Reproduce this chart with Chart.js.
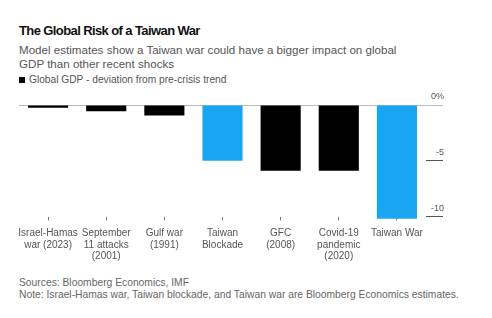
<!DOCTYPE html>
<html>
<head>
<meta charset="utf-8">
<script src="https://cdn.jsdelivr.net/npm/chart.js@4"></script>
<style>
  body { margin: 0; background: #fff; font-family: "Liberation Sans", Arial, sans-serif; }
  #wrap { position: relative; width: 492px; height: 318px; overflow: hidden; }
  .t { position: absolute; left: 19px; white-space: nowrap; }
  #title { top: 23px; font-size: 13px; line-height: 16px; font-weight: bold; color: #111; letter-spacing: -0.6px; }
  #sub { top: 43px; font-size: 11.6px; line-height: 14px; color: #555; }
  #legend { top: 74px; font-size: 10.2px; line-height: 12px; color: #555; }
  #legend span { display: inline-block; width: 6px; height: 6px; background: #000; margin-right: 4px; vertical-align: 0px; }
  #foot { top: 277px; font-size: 10.3px; line-height: 12px; color: #666; }
  #box { position: absolute; left: 0; top: 85px; width: 492px; height: 184px; }
</style>
</head>
<body>
<div id="wrap">
  <div class="t" id="title">The Global Risk of a Taiwan War</div>
  <div class="t" id="sub">Model estimates show a Taiwan war could have a bigger impact on global<br>GDP than other recent shocks</div>
  <div class="t" id="legend"><span></span>Global GDP - deviation from pre-crisis trend</div>
  <div class="t" id="foot">Sources: Bloomberg Economics, IMF<br>Note: Israel-Hamas war, Taiwan blockade, and Taiwan war are Bloomberg Economics estimates.</div>
  <div id="box"><canvas id="chart"></canvas></div>
</div>
<script>
// Global GDP deviation from pre-crisis trend, %
const categories = ['Israel-Hamas war (2023)', 'September 11 attacks (2001)', 'Gulf war (1991)',
  'Taiwan Blockade', 'GFC (2008)', 'Covid-19 pandemic (2020)', 'Taiwan War'];
const tickLabels = [
  ['Israel-Hamas', 'war (2023)'],
  ['September', '11 attacks', '(2001)'],
  ['Gulf war', '(1991)'],
  ['Taiwan', 'Blockade'],
  ['GFC', '(2008)'],
  ['Covid-19', 'pandemic', '(2020)'],
  ['Taiwan War']
];
const gdpDeviation = [-0.25, -0.55, -0.95, -5.0, -5.9, -5.9, -10.2];
const scenarios = ['Taiwan Blockade', 'Taiwan War'];
const yTicks = [0, -5, -10];

const BLUE = '#18a6f2';

new Chart(document.getElementById('chart'), {
  type: 'bar',
  data: {
    labels: categories,
    datasets: [{
      data: gdpDeviation,
      backgroundColor: ctx => scenarios.includes(categories[ctx.dataIndex]) ? BLUE : '#000',
      categoryPercentage: 1,
      barPercentage: 0.69,
      clip: false
    }]
  },
  options: {
    responsive: true,
    maintainAspectRatio: false,
    animation: false,
    layout: { padding: { left: 19, right: 48, top: 20, bottom: 0 } },
    plugins: { legend: { display: false }, tooltip: { enabled: false } },
    scales: {
      x: {
        border: { display: false },
        grid: { drawOnChartArea: false, offset: false, tickLength: 4, tickColor: '#777' },
        ticks: {
          color: '#555',
          font: { family: '"Liberation Sans", Arial, sans-serif', size: 10, lineHeight: 1.15 },
          padding: 7,
          maxRotation: 0,
          autoSkip: false,
          callback: (v, i) => tickLabels[i]
        }
      },
      y: {
        position: 'right',
        min: -10,
        max: 0,
        afterBuildTicks: axis => { axis.ticks = yTicks.map(v => ({ value: v })); },
        afterFit: axis => { axis.width = 18; },
        border: { display: false },
        grid: {
          color: ctx => ctx.tick && ctx.tick.value === 0 ? '#bbb' : 'transparent',
          tickColor: ctx => ctx.tick && ctx.tick.value === 0 ? '#bbb' : '#555',
          tickLength: 17
        },
        ticks: {
          color: '#555',
          font: { family: '"Liberation Sans", Arial, sans-serif', size: 9 },
          crossAlign: 'far',
          padding: -10,
          labelOffset: -8,
          callback: v => v === 0 ? '0%' : String(v)
        }
      }
    }
  }
});
</script>
</body>
</html>
